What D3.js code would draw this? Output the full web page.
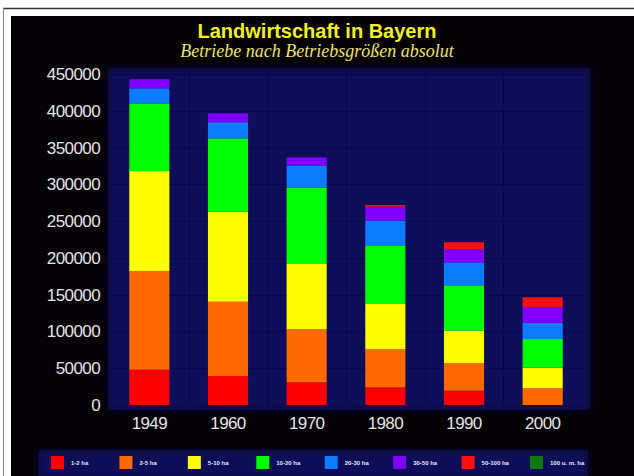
<!DOCTYPE html>
<html>
<head>
<meta charset="utf-8">
<script src="https://cdn.jsdelivr.net/npm/d3@7"></script>
<style>
  html, body { margin: 0; padding: 0; background: #ffffff; }
  svg { display: block; }
</style>
</head>
<body>
<svg id="chart" width="634" height="476"></svg>
<script>
// Farm holdings in Bavaria by size class (absolute counts)
const years = ["1949", "1960", "1970", "1980", "1990", "2000"];
const sizeClasses = ["1-2 ha", "2-5 ha", "5-10 ha", "10-20 ha", "20-30 ha", "30-50 ha", "50-100 ha", "100 u. m. ha"];
const ha1to2    = [48000, 39400, 30800, 24000, 19500, 0];
const ha2to5    = [134000, 101000, 72100, 51700, 37200, 22700];
const ha5to10   = [136000, 122400, 88800, 61600, 44300, 28000];
const ha10to20  = [92000, 99700, 103700, 78900, 60800, 39000];
const ha20to30  = [20500, 21800, 30000, 34400, 32200, 22200];
const ha30to50  = [12500, 12200, 11300, 19000, 18100, 20900];
const ha50to100 = [0, 0, 0, 2300, 9100, 13600];
const ha100plus = [0, 0, 0, 0, 0, 0];
const yTicks = [0, 50000, 100000, 150000, 200000, 250000, 300000, 350000, 400000, 450000];
const classColors = ["#ff0000", "#ff6a00", "#ffff00", "#00ff00", "#0a7cff", "#8000ff", "#ff1010", "#0a780a"];

const series = [ha1to2, ha2to5, ha5to10, ha10to20, ha20to30, ha30to50, ha50to100, ha100plus];
const table = years.map((yr, i) => {
  const row = { year: yr };
  sizeClasses.forEach((c, k) => { row[c] = series[k][i]; });
  return row;
});
const stacked = d3.stack().keys(sizeClasses)(table);

const svg = d3.select("#chart");
const defs = svg.append("defs");
defs.append("filter").attr("id", "soft").attr("x", "-10%").attr("y", "-10%").attr("width", "120%").attr("height", "120%")
  .append("feGaussianBlur").attr("stdDeviation", 3);

// frame
svg.append("line").attr("x1", 3).attr("x2", 634).attr("y1", 8.5).attr("y2", 8.5).attr("stroke", "#333").attr("stroke-width", 1.5);
svg.append("line").attr("x1", 3.5).attr("x2", 3.5).attr("y1", 8).attr("y2", 476).attr("stroke", "#888").attr("stroke-width", 1);
svg.append("rect").attr("x", 11).attr("y", 16).attr("width", 623).attr("height", 460).attr("fill", "#040204");

const x = d3.scaleBand().domain(years).range([110, 582]).paddingInner(0.49).paddingOuter(0.245);
const y = d3.scaleLinear().domain([0, 450000]).range([405, 74]);

// plot panel
svg.append("rect").attr("x", 108).attr("y", 68).attr("width", 482).attr("height", 342)
  .attr("fill", "#09095a").attr("filter", "url(#soft)");

// faint grid
const grid = svg.append("g").attr("stroke", "#07074c").attr("stroke-width", 1);
grid.selectAll("line.h").data(yTicks.slice(1)).join("line")
  .attr("x1", 112).attr("x2", 586)
  .attr("y1", d => Math.round(y(d)) + 0.5).attr("y2", d => Math.round(y(d)) + 0.5);
grid.selectAll("line.v").data(years.slice(1)).join("line")
  .attr("x1", d => Math.round(x(d) - x.step() * 0.245) + 0.5)
  .attr("x2", d => Math.round(x(d) - x.step() * 0.245) + 0.5)
  .attr("y1", 72).attr("y2", 405);

// stacked bars
svg.append("g").selectAll("g").data(stacked).join("g")
  .attr("fill", (d, i) => classColors[i])
  .selectAll("rect").data(d => d).join("rect")
  .attr("x", d => x(d.data.year))
  .attr("width", x.bandwidth())
  .attr("y", d => y(d[1]))
  .attr("height", d => y(d[0]) - y(d[1]));

// axes
const yAxis = svg.append("g").attr("transform", "translate(110,0)")
  .call(d3.axisLeft(y).tickValues(yTicks).tickFormat(d3.format("d")).tickSize(0).tickPadding(10));
yAxis.select(".domain").remove();
yAxis.selectAll("text").attr("fill", "#e4e4e4").attr("font-family", "Liberation Sans, Arial, sans-serif")
  .attr("font-size", 17).attr("letter-spacing", -0.6);

const xAxis = svg.append("g").attr("transform", "translate(0,405)")
  .call(d3.axisBottom(x).tickSize(0).tickPadding(12));
xAxis.select(".domain").remove();
xAxis.selectAll("text").attr("fill", "#e4e4e4").attr("font-family", "Liberation Sans, Arial, sans-serif")
  .attr("font-size", 17).attr("letter-spacing", -0.6);

// titles
svg.append("text").attr("x", 317).attr("y", 38).attr("text-anchor", "middle")
  .attr("font-family", "Liberation Sans, Arial, sans-serif").attr("font-weight", "bold").attr("font-size", 20)
  .attr("fill", "#f2f020").text("Landwirtschaft in Bayern");
svg.append("text").attr("x", 317).attr("y", 57).attr("text-anchor", "middle")
  .attr("font-family", "Liberation Serif, Times New Roman, serif").attr("font-style", "italic").attr("font-size", 18)
  .attr("fill", "#ece46a").text("Betriebe nach Betriebsgrößen absolut");

// legend
svg.append("rect").attr("x", 38).attr("y", 450).attr("width", 550).attr("height", 28)
  .attr("fill", "#09095a").attr("filter", "url(#soft)");
const legendX = d3.scalePoint().domain(sizeClasses).range([51, 530]);
const legend = svg.append("g").selectAll("g").data(sizeClasses).join("g")
  .attr("transform", d => `translate(${legendX(d)},456)`);
legend.append("rect").attr("width", 13).attr("height", 13).attr("fill", (d, i) => classColors[i]);
legend.append("text").attr("x", 20).attr("y", 9).attr("font-family", "Liberation Sans, Arial, sans-serif")
  .attr("font-size", 6).attr("font-weight", "bold").attr("fill", "#e8e8f0").text(d => d);
</script>
</body>
</html>
